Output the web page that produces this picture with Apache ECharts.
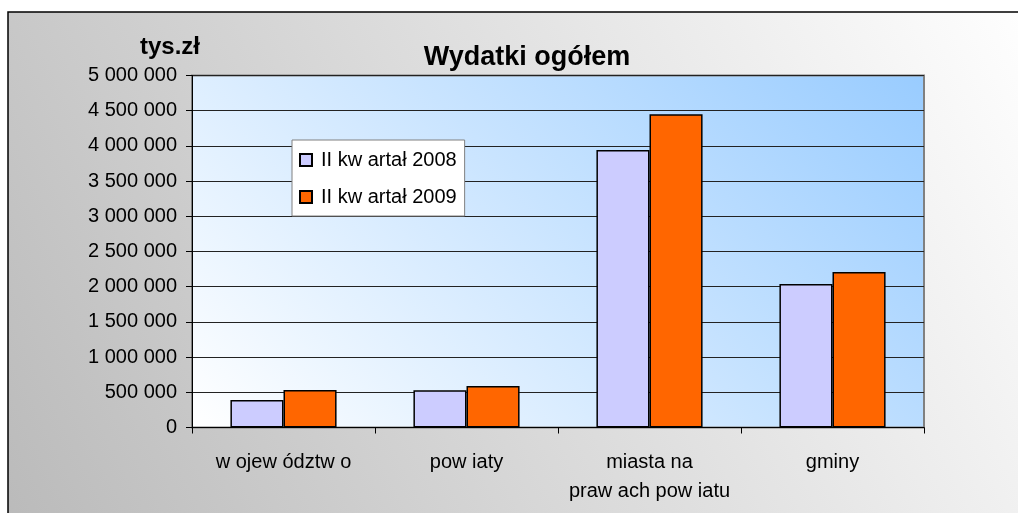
<!DOCTYPE html>
<html>
<head>
<meta charset="utf-8">
<script src="https://cdn.jsdelivr.net/npm/echarts@6/dist/echarts.min.js"></script>
<style>
html,body{margin:0;padding:0;background:#fff;}
#chart{width:1018px;height:513px;}
</style>
</head>
<body>
<div id="chart"></div>
<script>
const categories = ['w ojew ództw o', 'pow iaty', 'miasta na\npraw ach pow iatu', 'gminy'];
const seriesNames = ['II kw artał 2008', 'II kw artał 2009'];
const values2008 = [390000, 528000, 3940000, 2040000];
const values2009 = [533000, 590000, 4450000, 2210000];
const yTicks = { min: 0, max: 5000000, interval: 500000 };

const FONT = '"Liberation Sans", Arial, sans-serif';
const chart = echarts.init(document.getElementById('chart'));

function fmt(v) {
  return String(Math.round(v)).replace(/\B(?=(\d{3})+(?!\d))/g, ' ');
}

chart.setOption({
  animation: false,
  backgroundColor: '#ffffff',
  graphic: [
    {
      type: 'rect', z: -10, silent: true,
      shape: { x: 8, y: 12, width: 1030, height: 520 },
      style: {
        fill: new echarts.graphic.LinearGradient(0, 1, 1, 0, [
          { offset: 0, color: '#bababa' },
          { offset: 1, color: '#ffffff' }
        ]),
        stroke: '#000', lineWidth: 1.5
      }
    }
  ],
  title: [
    { text: 'Wydatki ogółem', left: 522, top: 39, textAlign: 'center',
      textStyle: { fontFamily: FONT, fontSize: 27, fontWeight: 'bold', color: '#000' } },
    { text: 'tys.zł', left: 135, top: 30,
      textStyle: { fontFamily: FONT, fontSize: 24, fontWeight: 'bold', color: '#000' } }
  ],
  legend: {
    orient: 'vertical',
    left: 292, top: 140,
    backgroundColor: '#ffffff',
    borderColor: '#808080', borderWidth: 1,
    padding: [10, 8, 9, 7],
    itemWidth: 12, itemHeight: 12, itemGap: 17,
    icon: 'rect',
    textStyle: { fontFamily: FONT, fontSize: 20, color: '#000', padding: [0, 0, 0, 4] },
    data: seriesNames
  },
  grid: {
    left: 192, right: 94, top: 75.5, bottom: 85.5,
    show: true,
    borderColor: '#808080', borderWidth: 2,
    backgroundColor: new echarts.graphic.LinearGradient(192, 427, 734, -115, [
      { offset: 0, color: '#ffffff' },
      { offset: 1, color: '#99ccff' }
    ], true)
  },
  xAxis: {
    type: 'category',
    data: categories,
    axisLine: { lineStyle: { color: '#000', width: 1 } },
    axisTick: { show: true, length: 6, lineStyle: { color: '#000' } },
    axisLabel: { interval: 0, fontFamily: FONT, fontSize: 20, color: '#000', margin: 20, lineHeight: 29 },
    z: 5
  },
  yAxis: {
    type: 'value',
    min: yTicks.min, max: yTicks.max, interval: yTicks.interval,
    axisLine: { show: true, lineStyle: { color: '#000', width: 1 } },
    axisTick: { show: true, length: 6, lineStyle: { color: '#000' } },
    axisLabel: { fontFamily: FONT, fontSize: 20, color: '#000', margin: 15, formatter: fmt },
    splitLine: { show: true, lineStyle: { color: '#222', width: 1 } }
  },
  series: [
    {
      name: seriesNames[0], type: 'bar', data: values2008,
      barGap: '0%', barCategoryGap: '42%',
      itemStyle: { color: '#ccccff', borderColor: '#000', borderWidth: 1.5 }
    },
    {
      name: seriesNames[1], type: 'bar', data: values2009,
      barGap: '0%', barCategoryGap: '42%',
      itemStyle: { color: '#ff6600', borderColor: '#000', borderWidth: 1.5 }
    }
  ]
});
</script>
</body>
</html>
